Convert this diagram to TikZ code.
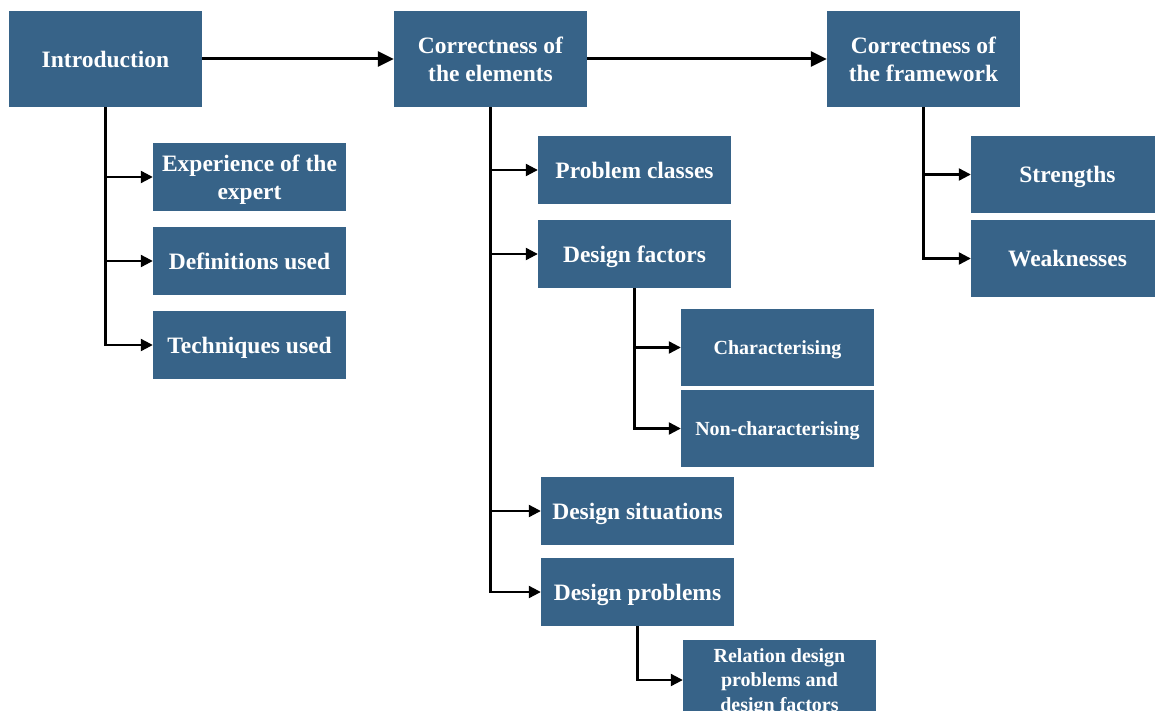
\documentclass[tikz,border=0pt]{standalone}
\usepackage{fontspec}
\setmainfont{Liberation Serif}
\usetikzlibrary{arrows.meta}
\definecolor{boxblue}{HTML}{376388}
\tikzset{
  box/.style={rectangle, fill=boxblue, text=white, align=center,
    font=\bfseries\fontsize{23.5}{28}\selectfont, inner sep=0pt, text depth=0pt},
  big/.style={box, minimum width=193pt, minimum height=96pt},
  sub/.style={box, minimum width=193pt, minimum height=68pt},
  tall/.style={box, minimum width=193pt, minimum height=77pt},
  small/.style={font=\bfseries\fontsize{20}{24.5}\selectfont},
  mainarrow/.style={line width=3pt, -{Triangle[length=16pt,width=15pt]}},
  brancharrow/.style={line width=2.2pt, -{Triangle[length=12pt,width=12pt]}}
}
\begin{document}
\begin{tikzpicture}[x=1pt,y=-1pt]
\path[use as bounding box, clip] (0,0) rectangle (1155,711);

% top row
\node[big] (intro) at (105.5,59) {Introduction};
\node[big] (elem)  at (490.5,59) {Correctness of\\the elements};
\node[big] (frame) at (923.5,59) {Correctness of\\the framework};

% introduction branch
\node[sub] (exp)  at (249.5,177) {Experience of the\\expert};
\node[sub] (defs) at (249.5,261) {Definitions used};
\node[sub] (tech) at (249.5,345) {Techniques used};

% elements branch
\node[sub] (pclass) at (634.5,170) {Problem classes};
\node[sub] (dfact)  at (634.5,254) {Design factors};
\node[tall, small] (charz) at (777.5,347.5) {Characterising};
\node[tall, small] (nonch) at (777.5,428.5) {Non-characterising};
\node[sub] (dsit)  at (637.5,511) {Design situations};
\node[sub] (dprob) at (637.5,592) {Design problems};
\node[box, small, minimum width=193pt, minimum height=80pt] (rel) at (779.5,680)
  {Relation design\\problems and\\design factors};

% framework branch
\node[tall] (str)  at (1067.5,174.5) {Strengths};
\node[tall] (weak) at (1067.5,258.5) {Weaknesses};

% main flow
\draw[mainarrow] (intro.east) -- (elem.west);
\draw[mainarrow] (elem.east) -- (frame.west);

% tree connectors
\foreach \t in {exp,defs,tech} \draw[brancharrow] (intro.south) |- (\t.west);
\foreach \t in {pclass,dfact,dsit,dprob} \draw[brancharrow] (elem.south) |- (\t.west);
\foreach \t in {charz,nonch} \draw[brancharrow] (dfact.south) |- (\t.west);
\draw[brancharrow] (dprob.south) |- (rel.west);
\foreach \t in {str,weak} \draw[brancharrow] (frame.south) |- (\t.west);
\end{tikzpicture}
\end{document}
